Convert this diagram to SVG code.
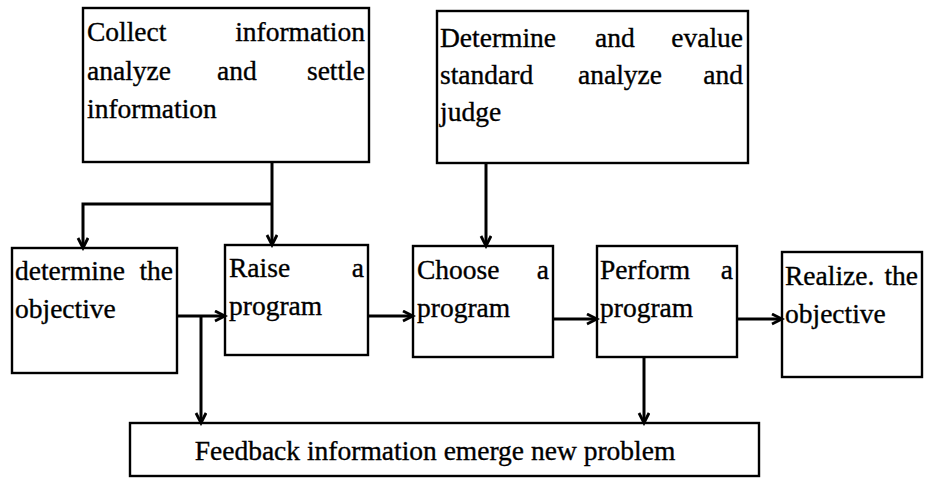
<svg xmlns="http://www.w3.org/2000/svg" width="938" height="478" viewBox="0 0 938 478">
<style>
.box{fill:#fff;stroke:#000;stroke-width:2.4}
.t{font-family:"Liberation Serif","Times New Roman",serif;font-size:27.5px;fill:#000;stroke:#000;stroke-width:0.35}
.e{text-anchor:end}
.m{text-anchor:middle}
.c{fill:none;stroke:#000;stroke-width:3}
</style>
<defs>
<marker id="ah" markerUnits="userSpaceOnUse" markerWidth="14" markerHeight="14" refX="11" refY="6" orient="auto">
<path d="M1,1 L11,6 L1,11" fill="none" stroke="#000" stroke-width="2.8"/>
</marker>
</defs>
<rect width="938" height="478" fill="#fff"/>
<g id="collect">
<rect class="box" x="83" y="8" width="286" height="154"/>
<text class="t" x="87" y="41">Collect</text>
<text class="t e" x="365" y="41">information</text>
<text class="t" x="87" y="80">analyze</text>
<text class="t" x="217" y="80">and</text>
<text class="t e" x="365" y="80">settle</text>
<text class="t" x="87" y="118">information</text>
</g>
<g id="evaluate">
<rect class="box" x="437" y="11" width="311" height="152"/>
<text class="t" x="440" y="47">Determine</text>
<text class="t" x="595" y="47">and</text>
<text class="t e" x="743" y="47">evalue</text>
<text class="t" x="440" y="84">standard</text>
<text class="t" x="578" y="84">analyze</text>
<text class="t e" x="743" y="84">and</text>
<text class="t" x="440" y="121">judge</text>
</g>
<g id="objective">
<rect class="box" x="12" y="248" width="165" height="125"/>
<text class="t" x="15" y="280">determine</text>
<text class="t e" x="173" y="280">the</text>
<text class="t" x="15" y="318">objective</text>
</g>
<g id="raise">
<rect class="box" x="225" y="245" width="143" height="110"/>
<text class="t" x="229" y="277">Raise</text>
<text class="t e" x="364" y="277">a</text>
<text class="t" x="229" y="315">program</text>
</g>
<g id="choose">
<rect class="box" x="413" y="246" width="140" height="111"/>
<text class="t" x="417" y="279">Choose</text>
<text class="t e" x="549" y="279">a</text>
<text class="t" x="417" y="317">program</text>
</g>
<g id="perform">
<rect class="box" x="597" y="246" width="140" height="111"/>
<text class="t" x="600" y="279">Perform</text>
<text class="t e" x="733" y="279">a</text>
<text class="t" x="600" y="317">program</text>
</g>
<g id="realize">
<rect class="box" x="782" y="252" width="140" height="125"/>
<text class="t" x="785" y="285">Realize.</text>
<text class="t e" x="918" y="285">the</text>
<text class="t" x="785" y="323">objective</text>
</g>
<g id="feedback">
<rect class="box" x="130" y="423" width="629" height="53"/>
<text class="t m" x="435" y="460">Feedback information emerge new problem</text>
</g>
<g id="connectors">
<path class="c" d="M272,162 V245" marker-end="url(#ah)"/>
<path class="c" d="M272,204 H83 V248" marker-end="url(#ah)"/>
<path class="c" d="M486,163 V246" marker-end="url(#ah)"/>
<path class="c" d="M177,316 H225" marker-end="url(#ah)"/>
<path class="c" d="M201,316 V423" marker-end="url(#ah)"/>
<path class="c" d="M368,316 H413" marker-end="url(#ah)"/>
<path class="c" d="M553,319 H597" marker-end="url(#ah)"/>
<path class="c" d="M737,319 H782" marker-end="url(#ah)"/>
<path class="c" d="M644,357 V423" marker-end="url(#ah)"/>
</g>
</svg>
